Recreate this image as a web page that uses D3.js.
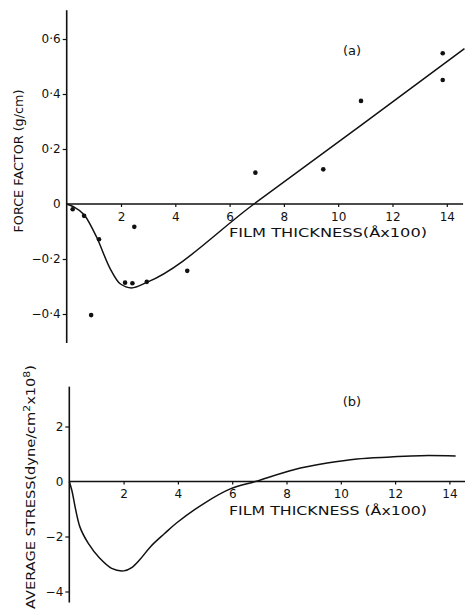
<!DOCTYPE html>
<html><head><meta charset="utf-8">
<script src="https://cdn.jsdelivr.net/npm/d3@7"></script>
<style>body{margin:0;background:#fff}svg{display:block}text{font-family:"DejaVu Sans",sans-serif;fill:#111}</style>
</head><body><svg id="c" width="465" height="611"></svg>
<script>
// ---- data ----
const xTicks = [2, 4, 6, 8, 10, 12, 14];
const forceTicks = [-0.4, -0.2, 0, 0.2, 0.4, 0.6];
const forceTickLabels = ["\u22120\u00b74", "\u22120\u00b72", "0", "0\u00b72", "0\u00b74", "0\u00b76"];
const stressTicks = [-4, -2, 0, 2];
const stressTickLabels = ["\u22124", "\u22122", "0", "2"];

const ptX = [0.22, 0.64, 1.19, 0.9, 2.15, 2.42, 2.49, 2.95, 4.44, 6.95, 9.45, 10.84, 13.85, 13.85];
const ptY = [-0.019, -0.043, -0.128, -0.404, -0.286, -0.288, -0.083, -0.283, -0.243, 0.114, 0.126, 0.375, 0.548, 0.451];

const fitX = [0, 0.25, 0.65, 1.1, 1.6, 1.97, 2.39, 2.95, 6.9, 10.8, 14.65];
const fitY = [0, -0.01, -0.04, -0.12, -0.235, -0.29, -0.305, -0.285, 0, 0.283, 0.565];

const stressX = [0, 0.09, 0.39, 0.7, 1.13, 1.56, 2.0, 2.3, 2.6, 3.0, 3.5, 3.96, 4.94, 5.93, 6.85, 8.27, 9.5, 10.6, 11.83, 12.94, 14.23];
const stressY = [0, -0.31, -1.65, -2.25, -2.8, -3.16, -3.25, -3.13, -2.84, -2.36, -1.9, -1.5, -0.81, -0.27, 0.0, 0.43, 0.67, 0.82, 0.89, 0.94, 0.93];

// ---- drawing ----
const svg = d3.select("#c");
const ink = "#111";

function panel(o) {
  const g = svg.append("g");
  const x = o.x, y = o.y;
  g.append("line").attr("x1", x(0)).attr("x2", x(o.xMax)).attr("y1", y(0)).attr("y2", y(0))
    .attr("stroke", ink).attr("stroke-width", 1.4);
  g.append("line").attr("x1", x(0)).attr("x2", x(0)).attr("y1", y(o.yMax)).attr("y2", y(o.yMin))
    .attr("stroke", ink).attr("stroke-width", 1.6);
  const ax = g.append("g").attr("transform", `translate(0,${y(0)})`)
    .call(d3.axisBottom(x).tickValues(xTicks).tickSize(3).tickPadding(5).tickFormat(d3.format("d")));
  ax.select(".domain").remove();
  ax.selectAll("line").attr("stroke", ink).attr("stroke-width", 1.2);
  ax.selectAll("text").attr("font-size", 12).attr("fill", ink).style("font-family", '"DejaVu Sans",sans-serif');
  const ay = g.append("g").attr("transform", `translate(${x(0)},0)`)
    .call(d3.axisLeft(y).tickValues(o.yTicks).tickSize(4).tickPadding(2)
      .tickFormat((d, i) => o.yLabels[i]));
  ay.select(".domain").remove();
  ay.selectAll("line").attr("stroke", ink).attr("stroke-width", 1.2);
  ay.selectAll("text").attr("font-size", 12).attr("fill", ink).style("font-family", '"DejaVu Sans",sans-serif');
  ay.selectAll(".tick").filter(d => d === 0).select("line").remove();
  g.append("text").attr("x", 229).attr("y", y(0) + o.titleDy).attr("font-size", 13)
    .attr("textLength", 198).attr("lengthAdjust", "spacingAndGlyphs").text(o.xTitle);
  g.append("text").attr("x", 352).attr("y", o.tagY).attr("font-size", 13)
    .attr("text-anchor", "middle").text(o.tag);
  return g;
}

// top panel
const xa = d3.scaleLinear().domain([0, 14]).range([66.7, 446.8]);
const ya = d3.scaleLinear().domain([-0.4, 0.6]).range([314, 39]);
const ga = panel({x: xa, y: ya, xMax: 14.6, yMax: 0.705, yMin: -0.505, yTicks: forceTicks, yLabels: forceTickLabels,
  xTitle: "FILM THICKNESS(\u00c5x100)", titleDy: 33, tag: "(a)", tagY: 55});
ga.append("path").datum(fitX.map((d, i) => [d, fitY[i]]))
  .attr("d", d3.line().x(d => xa(d[0])).y(d => ya(d[1])).curve(d3.curveMonotoneX))
  .attr("fill", "none").attr("stroke", ink).attr("stroke-width", 1.5);
ga.selectAll("circle").data(ptX.map((d, i) => [d, ptY[i]])).join("circle")
  .attr("cx", d => xa(d[0])).attr("cy", d => ya(d[1])).attr("r", 2.3).attr("fill", ink);
ga.append("text").attr("transform", "translate(23,161) rotate(-90)").attr("text-anchor", "middle")
  .attr("font-size", 12).attr("textLength", 143).attr("lengthAdjust", "spacingAndGlyphs").text("FORCE FACTOR (g/cm)");

// bottom panel
const xb = d3.scaleLinear().domain([0, 14]).range([69.3, 449.4]);
const yb = d3.scaleLinear().domain([-4, 2]).range([591.5, 426.5]);
const gb = panel({x: xb, y: yb, xMax: 14.6, yMax: 3.45, yMin: -4.4, yTicks: stressTicks, yLabels: stressTickLabels,
  xTitle: "FILM THICKNESS (\u00c5x100)", titleDy: 33, tag: "(b)", tagY: 406});
gb.append("path").datum(stressX.map((d, i) => [d, stressY[i]]))
  .attr("d", d3.line().x(d => xb(d[0])).y(d => yb(d[1])).curve(d3.curveCatmullRom))
  .attr("fill", "none").attr("stroke", ink).attr("stroke-width", 1.5);
const st = gb.append("text").attr("transform", "translate(35,487) rotate(-90)").attr("text-anchor", "middle")
  .attr("font-size", 12).attr("textLength", 244).attr("lengthAdjust", "spacingAndGlyphs");
st.append("tspan").text("AVERAGE STRESS(dyne/cm");
st.append("tspan").attr("dy", -5).attr("font-size", 9).text("2");
st.append("tspan").attr("dy", 5).text("x10");
st.append("tspan").attr("dy", -5).attr("font-size", 9).text("8");
st.append("tspan").attr("dy", 5).text(")");
</script></body></html>
